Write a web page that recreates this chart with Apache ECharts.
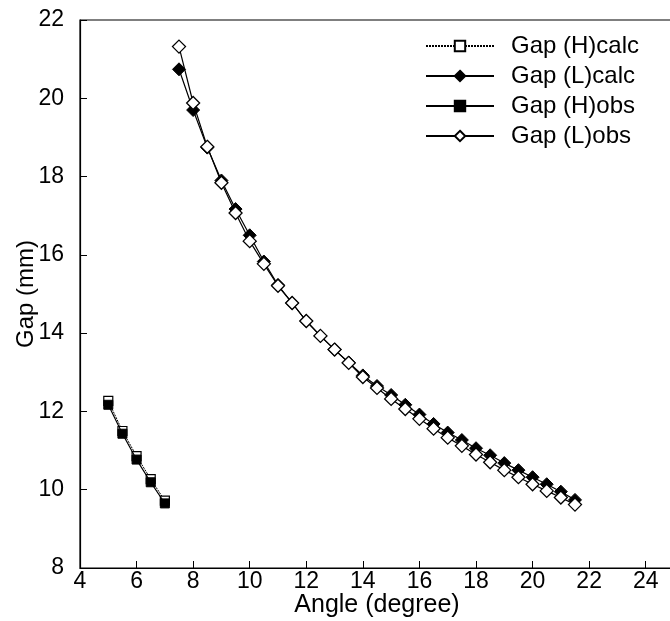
<!DOCTYPE html>
<html>
<head>
<meta charset="utf-8">
<script src="https://cdn.jsdelivr.net/npm/echarts@6/dist/echarts.min.js"></script>
<style>html,body{margin:0;padding:0;background:#fff;}#c{width:670px;height:621px;}</style>
</head>
<body>
<div id="c"></div>
<script>
const hAngles = [5, 5.5, 6, 6.5, 7];
const hCalc = [12.27, 11.50, 10.86, 10.27, 9.72];
const hObs = [12.17, 11.43, 10.77, 10.19, 9.65];

const lAngles = [7.5, 8, 8.5, 9, 9.5, 10, 10.5, 11, 11.5, 12, 12.5, 13, 13.5, 14, 14.5, 15, 15.5, 16, 16.5, 17, 17.5, 18, 18.5, 19, 19.5, 20, 20.5, 21, 21.5];
const lCalc = [20.74, 19.70, 18.74, 17.90, 17.17, 16.50, 15.83, 15.23, 14.77, 14.31, 13.93, 13.58, 13.25, 12.92, 12.65, 12.42, 12.17, 11.92, 11.68, 11.46, 11.27, 11.06, 10.88, 10.68, 10.50, 10.32, 10.14, 9.95, 9.74];
const lObs = [21.32, 19.88, 18.76, 17.84, 17.07, 16.35, 15.77, 15.21, 14.77, 14.31, 13.93, 13.58, 13.24, 12.88, 12.60, 12.32, 12.06, 11.81, 11.56, 11.33, 11.12, 10.90, 10.70, 10.50, 10.32, 10.14, 9.97, 9.80, 9.62];

const seriesNames = ['Gap (H)calc', 'Gap (L)calc', 'Gap (H)obs', 'Gap (L)obs'];
const xTicks = {min: 4, max: 25, interval: 2};
const yTicks = {min: 8, max: 22, interval: 2};

const zip = (xs, ys) => xs.map((x, i) => [x, ys[i]]);
const FONT = '"Liberation Sans", Arial, Helvetica, sans-serif';

const chart = echarts.init(document.getElementById('c'), null, {renderer: 'canvas'});
chart.setOption({
  animation: false,
  backgroundColor: '#fff',
  textStyle: {fontFamily: FONT, color: '#000'},
  grid: {left: 80, width: 594, top: 20, height: 548, containLabel: false, outerBoundsMode: 'none',
    show: true, borderColor: '#000', borderWidth: 1.2, backgroundColor: 'transparent'},
  legend: {
    data: seriesNames,
    orient: 'vertical',
    left: 420,
    top: 29,
    itemWidth: 68,
    itemHeight: 13,
    itemGap: 6,
    textStyle: {fontFamily: FONT, fontSize: 24, color: '#000', padding: [0, 0, 0, 12]}
  },
  xAxis: {
    type: 'value',
    min: xTicks.min, max: xTicks.max, interval: xTicks.interval,
    name: 'Angle (degree)', nameLocation: 'middle', nameGap: 25, nameMoveOverlap: false,
    nameTextStyle: {fontFamily: FONT, fontSize: 25, color: '#000'},
    axisLine: {show: true, onZero: false, lineStyle: {color: '#000', width: 1.2}},
    axisTick: {show: true, inside: true, length: 7, lineStyle: {color: '#000'}},
    axisLabel: {fontFamily: FONT, fontSize: 23, color: '#000', margin: 2,
      formatter: v => (v % 2 === 0 ? String(v) : '')},
    splitLine: {show: false}
  },
  yAxis: {
    type: 'value',
    min: yTicks.min, max: yTicks.max, interval: yTicks.interval,
    name: 'Gap (mm)', nameLocation: 'middle', nameGap: 42, nameRotate: 90, nameMoveOverlap: false,
    nameTextStyle: {fontFamily: FONT, fontSize: 24, color: '#000'},
    axisLine: {show: true, onZero: false, lineStyle: {color: '#000', width: 1.2}},
    axisTick: {show: true, inside: true, length: 7, lineStyle: {color: '#000'}},
    axisLabel: {fontFamily: FONT, fontSize: 23, color: '#000', margin: 16},
    splitLine: {show: false}
  },
  series: [
    {
      name: seriesNames[0], type: 'line', data: zip(hAngles, hCalc), z: 2,
      symbol: 'rect', symbolSize: 9,
      lineStyle: {color: '#000', width: 1, type: [2, 1]},
      itemStyle: {color: '#fff', borderColor: '#000', borderWidth: 1.2}
    },
    {
      name: seriesNames[1], type: 'line', data: zip(lAngles, lCalc), z: 2,
      symbol: 'diamond', symbolSize: 13,
      lineStyle: {color: '#000', width: 1.2},
      itemStyle: {color: '#000', borderColor: '#000', borderWidth: 1}
    },
    {
      name: seriesNames[2], type: 'line', data: zip(hAngles, hObs), z: 3,
      symbol: 'rect', symbolSize: 9,
      lineStyle: {color: '#000', width: 1.2},
      itemStyle: {color: '#000', borderColor: '#000', borderWidth: 1}
    },
    {
      name: seriesNames[3], type: 'line', data: zip(lAngles, lObs), z: 3,
      symbol: 'diamond', symbolSize: 13,
      lineStyle: {color: '#000', width: 1.2},
      itemStyle: {color: '#fff', borderColor: '#000', borderWidth: 1.3}
    }
  ]
});
</script>
</body>
</html>
